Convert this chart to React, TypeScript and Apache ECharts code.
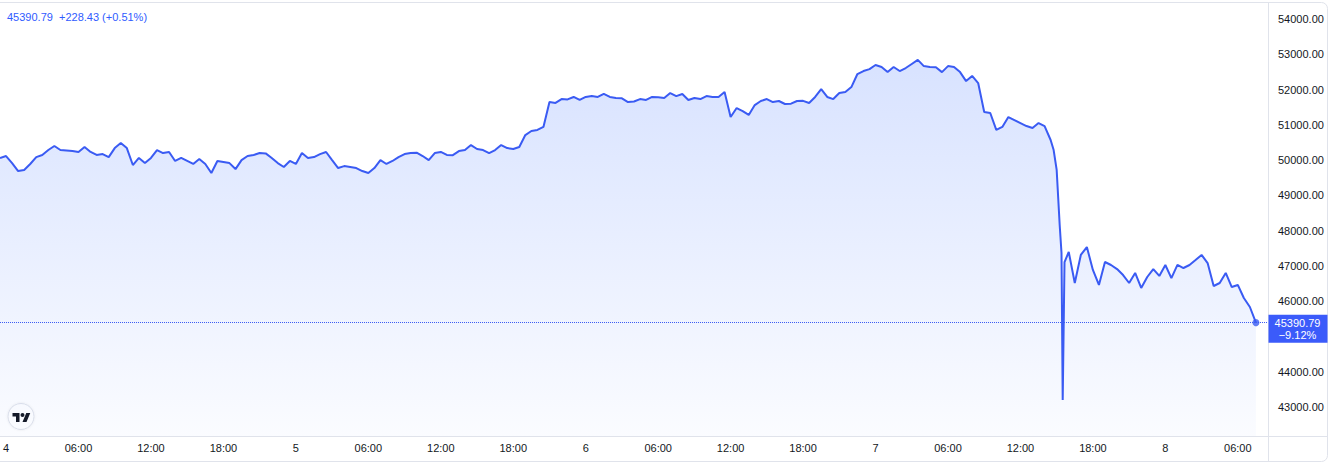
import React, { useEffect, useRef } from 'react';
import * as echarts from 'echarts';

// time of the first sample, in hours from day 4 00:00, and the sampling step
const startHour = -0.5;
const stepHours = 0.5;

// price samples every 30 minutes
const prices = [
  50060, 50115, 49915, 49690, 49720, 49890, 50085, 50145, 50285, 50400,
  50285, 50270, 50255, 50230, 50370, 50230, 50145, 50170, 50085, 50340,
  50485, 50340, 49860, 50060, 49915, 50060, 50285, 50200, 50230, 49975,
  50060, 49975, 49890, 50030, 49890, 49635, 49975, 49945, 49915, 49745,
  50000, 50115, 50145, 50200, 50190, 50060, 49915, 49805, 49975, 49890,
  50200, 50060, 50085, 50170, 50230, 50000, 49775, 49830, 49805, 49775,
  49690, 49635, 49775, 50000, 49890, 49975, 50085, 50170, 50200, 50210,
  50115, 50000, 50200, 50230, 50145, 50140, 50255, 50285, 50425, 50315,
  50285, 50200, 50285, 50425, 50340, 50315, 50370, 50710, 50825, 50855,
  50940, 51645, 51620, 51730, 51720, 51790, 51705, 51790, 51815, 51790,
  51875, 51790, 51760, 51750, 51645, 51660, 51730, 51705, 51790, 51780,
  51760, 51900, 51815, 51875, 51705, 51760, 51730, 51815, 51790, 51790,
  51930, 51220, 51475, 51390, 51280, 51560, 51675, 51730, 51645, 51675,
  51590, 51600, 51675, 51680, 51620, 51790, 52015, 51790, 51730, 51900,
  51930, 52070, 52440, 52525, 52580, 52695, 52640, 52495, 52640, 52525,
  52610, 52725, 52840, 52665, 52640, 52630, 52495, 52665, 52640, 52495,
  52240, 52385, 52185, 51365, 51335, 50855, 50940, 51220, 51135, 51050,
  50965, 50910, 51050, 50965, 50570, 49720, 43200, 47395, 46515, 47310,
  47535, 46885, 46460, 47110, 47025, 46910, 46740, 46515, 46800, 46375,
  46685, 46910, 46715, 47025, 46655, 47030, 46940, 47025, 47165, 47310,
  47080, 46430, 46515, 46800, 46400, 46460, 46090, 45835, 45390.79,
];

// finer detail around the crash (hours, price)
const crashHours = [86.75, 87.25, 87.4, 87.65];
const crashPrices = [50285, 48160, 47365, 47110];

// x tick positions (hours from day 4 00:00)
const xTickHours = [0, 6, 12, 18, 24, 30, 36, 42, 48, 54, 60, 66, 72, 78, 84, 90, 96, 102];
const firstDay = 4;
// y tick labels
const yTickValues = [43000, 44000, 46000, 47000, 48000, 49000, 50000, 51000, 52000, 53000, 54000];

const xMin = -0.5;
const xMax = 104.5;
const yMin = 42177;
const yMax = 54454;

const lastPrice = 45390.79;
const headerText = '45390.79  +228.43 (+0.51%)';
const changeText = '\u22129.12%';

const BLUE = '#3a5bf3';
const LABEL_BLUE = '#3b5bfa';
const FONT = "'Liberation Sans', Arial, sans-serif";
const BORDER = '#e0e3eb';

const TV_PATH = 'M14 22H7V11H0V4h14v18zM28 22h-8l7.5-18h8L28 22zM24 8a4 4 0 1 1-8 0a4 4 0 1 1 8 0z';
let registered = false;

function fmtX(v: number): string {
  const day = firstDay + Math.floor(v / 24);
  const h = ((v % 24) + 24) % 24;
  if (h === 0) return String(day);
  return (h < 10 ? '0' : '') + h + ':00';
}

export default function App() {
  const ref = useRef<HTMLDivElement>(null);
  useEffect(() => {
    if (!registered) {
      echarts.graphic.registerShape('tvlogo', echarts.graphic.extendPath(TV_PATH, {}) as any);
      registered = true;
    }
    const el = ref.current!;
    const chart = echarts.init(el, null, { renderer: 'svg' });
    const data = prices.map((p, i) => [startHour + i * stepHours, p]);
    crashHours.forEach((h, i) => data.push([h, crashPrices[i]]));
    data.sort((a, b) => a[0] - b[0]);
    const last = data[data.length - 1];

    const baseGraphic: any[] = [
      {
        id: 'frame', type: 'rect', silent: true, z: 0,
        shape: { x: -10.5, y: 2.5, width: 1338, height: 459, r: 6 },
        style: { fill: 'none', stroke: BORDER, lineWidth: 1 },
      },
      {
        id: 'xline', type: 'line', silent: true,
        shape: { x1: -10, y1: 436.5, x2: 1327.5, y2: 436.5 },
        style: { stroke: BORDER, lineWidth: 1 },
      },
      {
        id: 'yline', type: 'line', silent: true,
        shape: { x1: 1268.5, y1: 2.5, x2: 1268.5, y2: 461.5 },
        style: { stroke: BORDER, lineWidth: 1 },
      },
      {
        id: 'header', type: 'text', left: 7, top: 11,
        style: { text: headerText, fill: '#2f5bff', font: `11px ${FONT}` },
      },
      {
        id: 'logoc', type: 'circle', silent: true,
        shape: { cx: 21, cy: 416.5, r: 13 },
        style: { fill: '#ffffff', stroke: '#dfe2ea', lineWidth: 1, shadowBlur: 2, shadowColor: 'rgba(0,0,0,0.08)' },
      },
      {
        id: 'logo', type: 'tvlogo', x: 12.5, y: 411, scaleX: 0.5, scaleY: 0.5,
        style: { fill: '#131722' },
      },
    ];

    const option: any = {
      animation: false,
      grid: { left: -2, right: 62, top: 3, bottom: 29 },
      xAxis: {
        type: 'value', min: xMin, max: xMax,
        axisLine: { show: false }, axisTick: { show: false }, splitLine: { show: false },
        axisLabel: {
          customValues: xTickHours, formatter: (v: number) => fmtX(v),
          color: '#131722', fontSize: 11, fontFamily: FONT, margin: 6,
          showMinLabel: true, showMaxLabel: true,
        },
      },
      yAxis: {
        type: 'value', position: 'right', min: yMin, max: yMax, scale: true,
        axisLine: { show: false }, axisTick: { show: false }, splitLine: { show: false },
        axisLabel: {
          customValues: yTickValues, formatter: (v: number) => v.toFixed(2),
          color: '#131722', fontSize: 11, fontFamily: FONT, margin: 10,
        },
      },
      series: [
        {
          type: 'line', data, showSymbol: false, smooth: false,
          lineStyle: { color: BLUE, width: 2 },
          areaStyle: {
            color: new echarts.graphic.LinearGradient(0, 0, 0, 1, [
              { offset: 0, color: 'rgba(41,98,255,0.26)' },
              { offset: 1, color: 'rgba(41,98,255,0.03)' },
            ]),
          },
          markLine: {
            silent: true, symbol: ['none', 'none'], animation: false,
            lineStyle: { color: BLUE, type: 'dotted', width: 1 },
            label: { show: false },
            data: [{ yAxis: lastPrice }],
          },
          z: 3,
        },
        {
          type: 'scatter', data: [last], symbolSize: 7,
          itemStyle: { color: BLUE }, z: 4,
        },
      ],
      graphic: baseGraphic,
    };
    chart.setOption(option);

    const py = chart.convertToPixel({ yAxisIndex: 0 }, lastPrice) as number;
    const px = chart.convertToPixel({ xAxisIndex: 0 }, xMax) as number;
    const labelGraphic: any[] = [
      {
        id: 'plabel', type: 'rect', z: 10,
        shape: { x: px + 0.5, y: py - 8, width: 59, height: 28, r: 0 },
        style: { fill: LABEL_BLUE },
      },
      {
        id: 'ptext1', type: 'text', z: 11, x: px + 29.5, y: py,
        style: { text: lastPrice.toFixed(2), fill: '#ffffff', font: `11px ${FONT}`, align: 'center', verticalAlign: 'middle' },
      },
      {
        id: 'ptext2', type: 'text', z: 11, x: px + 29.5, y: py + 12,
        style: { text: changeText, fill: '#ffffff', font: `11px ${FONT}`, align: 'center', verticalAlign: 'middle' },
      },
    ];
    chart.setOption({ graphic: [...baseGraphic, ...labelGraphic] });
    return () => chart.dispose();
  }, []);
  return <div ref={ref} style={{ position: 'absolute', left: 0, top: 0, width: 1330, height: 465 }} />;
}
